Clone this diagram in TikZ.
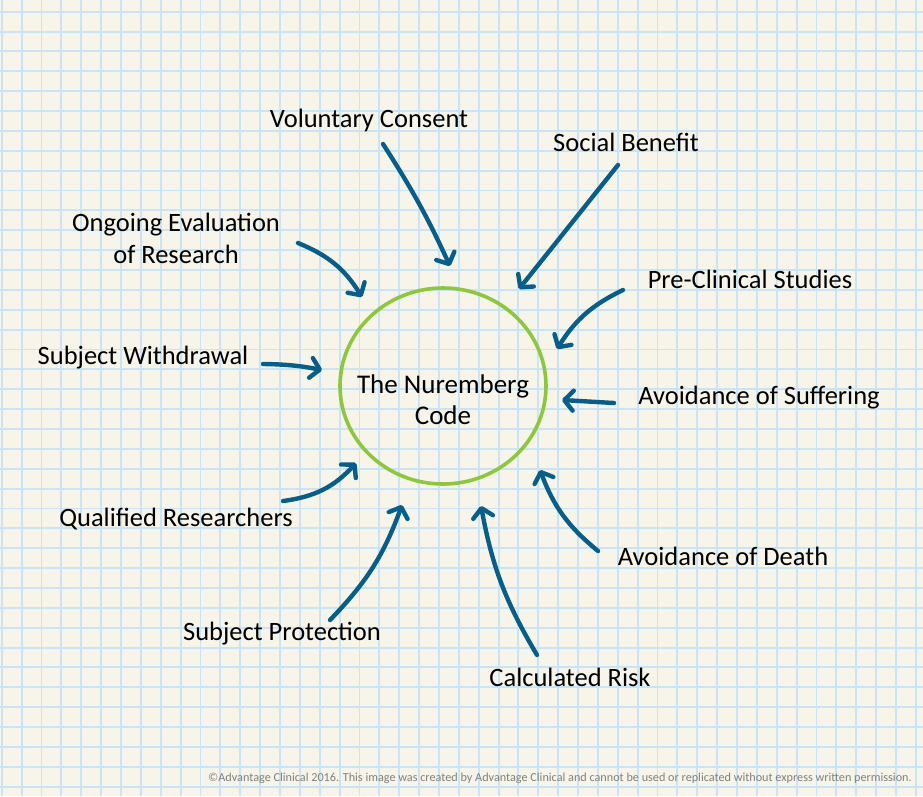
\documentclass[tikz,border=0pt]{standalone}
\usepackage{fontspec}
\setmainfont{Carlito}
\usepackage{tikz}
\usetikzlibrary{positioning, arrows.meta}

\definecolor{paper}{RGB}{247,245,233}
\definecolor{gridblue}{RGB}{200,228,246}
\definecolor{codegreen}{RGB}{141,198,63}
\definecolor{arrowblue}{RGB}{8,94,136}
\definecolor{notegray}{RGB}{128,128,128}

\begin{document}
\begin{tikzpicture}[
        x=1pt, y=-1pt,
        gridline/.style={draw=gridblue, line width=1.9pt},
        principle/.style={font=\fontsize{26.5}{32}\selectfont, align=center, inner sep=0pt},
        core/.style={font=\fontsize{27}{31}\selectfont, align=center, inner sep=0pt},
        ring/.style={draw=codegreen, line width=3.6pt},
        arrow/.style={-{Straight Barb[length=9pt, width=20pt, round]}, draw=arrowblue, line width=4.4pt, line cap=round},
        note/.style={font=\fontsize{12.2}{14}\selectfont, text=notegray, inner sep=0pt}
    ]

    % Paper and grid
    \fill[paper] (0,0) rectangle (923,796);
    \useasboundingbox (0,0) rectangle (923,796);
    \foreach \i in {0,...,46}
        \draw[gridline] ({1.8+19.87*\i},0) -- ++(0,796);
    \foreach \j in {0,...,39}
        \draw[gridline] (0,{11.7+19.87*\j}) -- ++(923,0);

    % Central circle
    \draw[ring] (443,386) ellipse [x radius=103, y radius=98];
    \node[core] (code) at (443,400) {The Nuremberg\\Code};

    % Principles around the circle
    \node[principle] (consent) at (369,120) {Voluntary Consent};
    \node[principle] (benefit) at (626,142) {Social Benefit};
    \node[principle] (ongoing) at (176,238) {Ongoing Evaluation\\of Research};
    \node[principle] (preclin) at (750,279) {Pre-Clinical Studies};
    \node[principle] (withdraw) at (143,358) {Subject Withdrawal};
    \node[principle] (suffer) at (759,398) {Avoidance of Suffering};
    \node[principle] (qualified) at (176,519) {Qualified Researchers};
    \node[principle] (death) at (723,556) {Avoidance of Death};
    \node[principle] (protect) at (282,634) {Subject Protection};
    \node[principle] (risk) at (570,677) {Calculated Risk};

    % Arrow ends
    \coordinate (consent-t) at (383,144);   \coordinate (consent-h) at (450,266);
    \coordinate (benefit-t) at (618,165);   \coordinate (benefit-h) at (519,289);
    \coordinate (ongoing-t) at (298,243);   \coordinate (ongoing-h) at (362,297);
    \coordinate (preclin-t) at (623,290);   \coordinate (preclin-h) at (557,349);
    \coordinate (withdraw-t) at (263,364);  \coordinate (withdraw-h) at (322,370);
    \coordinate (suffer-t) at (614,403);    \coordinate (suffer-h) at (562,400);
    \coordinate (qualified-t) at (283,501); \coordinate (qualified-h) at (356,463);
    \coordinate (death-t) at (598,551);     \coordinate (death-h) at (540,470);
    \coordinate (protect-t) at (330,620);   \coordinate (protect-h) at (402,505);
    \coordinate (risk-t) at (537,655);      \coordinate (risk-h) at (481,506);

    % Arrows pointing at the code
    \draw[arrow] (consent-t) to[bend left=4] (consent-h);
    \draw[arrow] (benefit-t) -- (benefit-h);
    \draw[arrow] (ongoing-t) to[bend left=18] (ongoing-h);
    \draw[arrow] (preclin-t) to[bend right=16] (preclin-h);
    \draw[arrow] (withdraw-t) to[bend left=5] (withdraw-h);
    \draw[arrow] (suffer-t) -- (suffer-h);
    \draw[arrow] (qualified-t) to[bend right=20] (qualified-h);
    \draw[arrow] (death-t) to[bend left=15] (death-h);
    \draw[arrow] (protect-t) to[bend right=12] (protect-h);
    \draw[arrow] (risk-t) to[bend left=10] (risk-h);

    % Copyright line
    \node[note, anchor=east] (rights) at (912,778) {©Advantage Clinical 2016. This image was created by Advantage Clinical and cannot be used or replicated without express written permission.};

\end{tikzpicture}
\end{document}
